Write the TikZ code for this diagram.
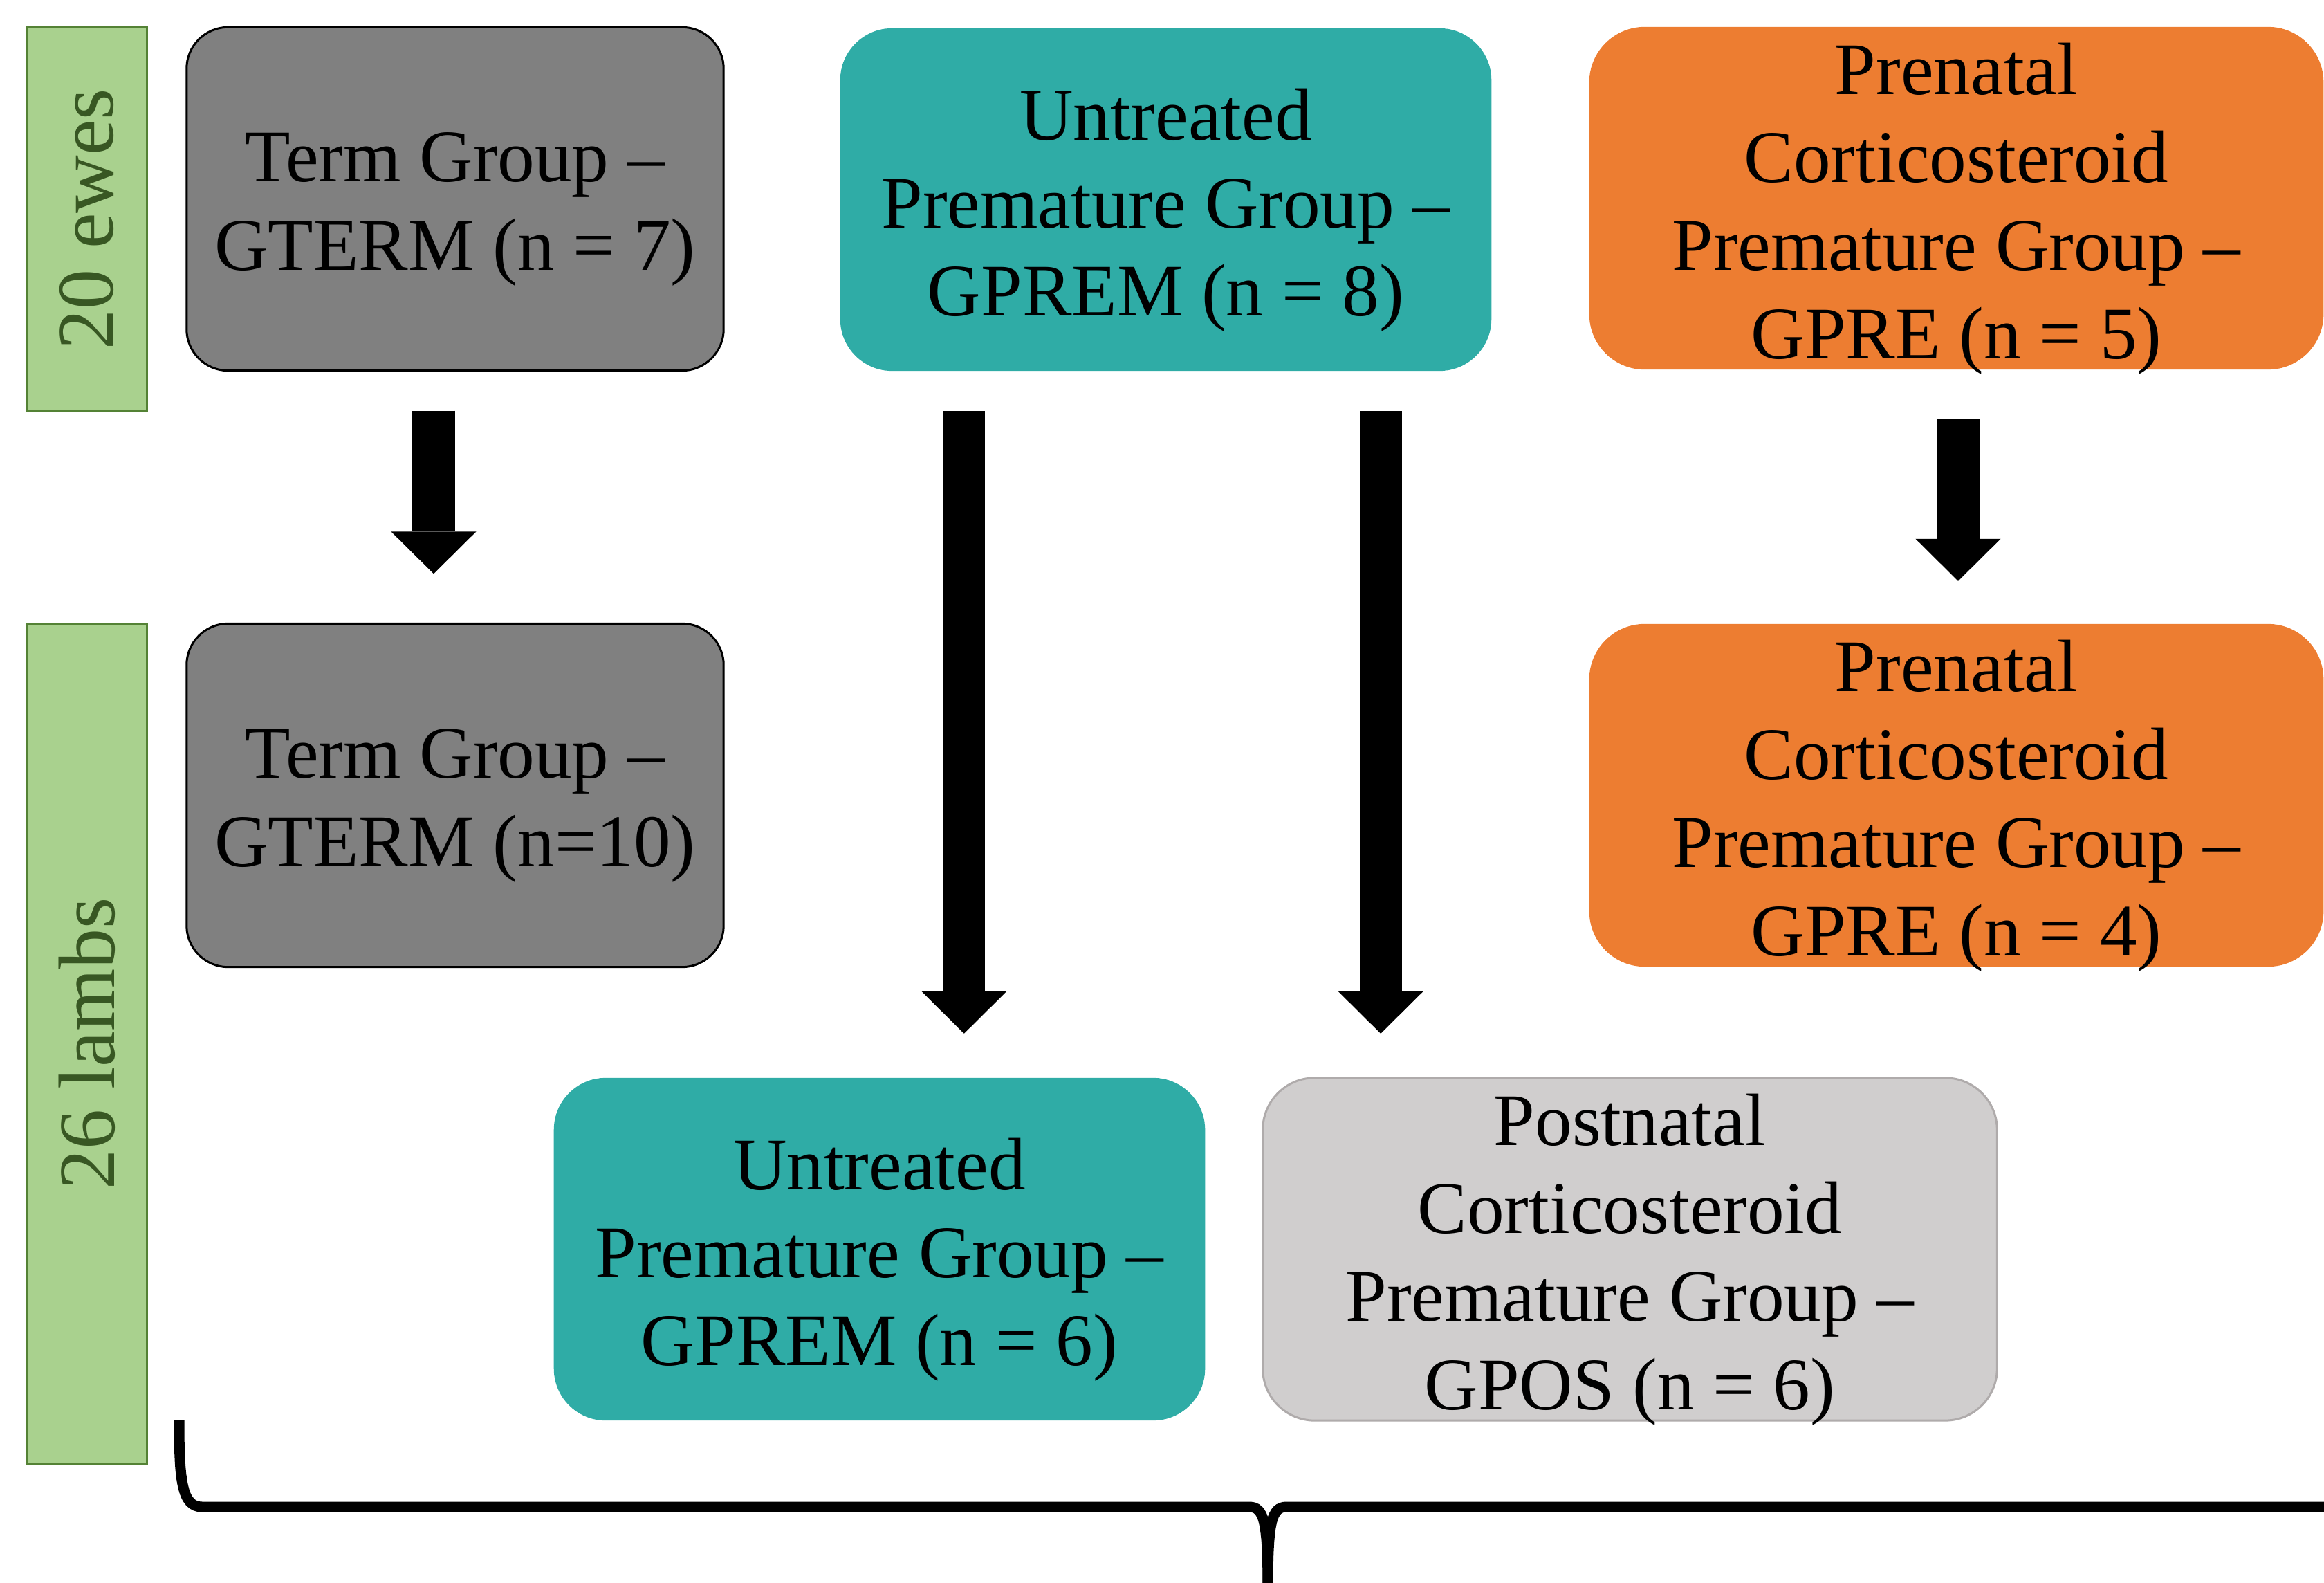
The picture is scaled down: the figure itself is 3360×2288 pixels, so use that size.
\documentclass[tikz,border=0pt]{standalone}
\usepackage{fontspec}
\setmainfont{Liberation Serif}
\usetikzlibrary{arrows.meta,calc}
\definecolor{termgray}{HTML}{808080}
\definecolor{tealbox}{HTML}{2FACA6}
\definecolor{orangebox}{HTML}{ED7D31}
\definecolor{lgraybox}{HTML}{D0CECE}
\definecolor{lgrayline}{HTML}{AFABAB}
\definecolor{gfill}{HTML}{A9D18E}
\definecolor{gborder}{HTML}{548235}
\definecolor{gtext}{HTML}{385723}
\begin{document}
\begin{tikzpicture}[x=0.01cm,y=-0.01cm,
  boxbase/.style={rectangle, inner sep=0pt, outer sep=0pt},
  termbox/.style={boxbase, rounded corners=0.6cm, fill=termgray, draw=black, line width=0.03cm,
    minimum width=7.76cm, minimum height=4.96cm},
  tealgrp/.style={boxbase, rounded corners=0.75cm, fill=tealbox, draw=none,
    minimum width=9.41cm, minimum height=4.95cm},
  orangegrp/.style={boxbase, rounded corners=0.8cm, fill=orangebox, draw=none,
    minimum width=10.61cm, minimum height=4.95cm},
  postgrp/.style={boxbase, rounded corners=0.75cm, fill=lgraybox, draw=lgrayline, line width=0.03cm,
    minimum width=10.61cm, minimum height=4.95cm},
  sidebar/.style={boxbase, fill=gfill, draw=gborder, line width=0.03cm, minimum width=1.73cm},
  sidetext/.style={inner sep=0pt, text=gtext, rotate=90, font=\fontsize{33}{40}\selectfont},
  boxtext/.style={inner sep=0pt, align=center, text=black, yshift=-0.15cm,
    font=\fontsize{30.5}{36.2}\selectfont},
  blockarrow/.style={line width=0.61cm, draw=black,
    -{Triangle[width=1.23cm, length=0.61cm, line width=0pt]}},
  bracestyle/.style={line width=0.15cm, draw=black}
]
\useasboundingbox (0,0) rectangle (3360,2288);
\clip (0,0) rectangle (3360,2288);

% side bars
\node[sidebar, minimum height=5.55cm] (g1) at (125.5,316.5) {};
\node[sidetext] (g1t) at (g1.center) {20 ewes};
\node[sidebar, minimum height=12.13cm] (g2) at (125.5,1508.5) {};
\node[sidetext] (g2t) at (g2.center) {26 lambs};

% top row
\node[termbox] (t1) at (658,287.5) {};
\node[boxtext] (t1t) at (t1.center) {Term Group –\\GTERM (n = 7)};
\node[tealgrp] (u1) at (1685.5,288.5) {};
\node[boxtext] (u1t) at (u1.center) {Untreated\\Premature Group –\\GPREM (n = 8)};
\node[orangegrp] (p1) at (2828.5,286.5) {};
\node[boxtext] (p1t) at (p1.center) {Prenatal\\Corticosteroid\\Premature Group –\\GPRE (n = 5)};

% middle row
\node[termbox] (t2) at (658,1149.5) {};
\node[boxtext] (t2t) at (t2.center) {Term Group –\\GTERM (n=10)};
\node[orangegrp] (p2) at (2828.5,1149.5) {};
\node[boxtext] (p2t) at (p2.center) {Prenatal\\Corticosteroid\\Premature Group –\\GPRE (n = 4)};

% bottom row
\node[tealgrp] (u2) at (1271.5,1805.5) {};
\node[boxtext] (u2t) at (u2.center) {Untreated\\Premature Group –\\GPREM (n = 6)};
\node[postgrp] (q2) at (2356.5,1805.5) {};
\node[boxtext] (q2t) at (q2.center) {Postnatal\\Corticosteroid\\Premature Group –\\GPOS (n = 6)};

% block arrows
\coordinate (a1s) at ([xshift=-0.31cm,yshift=-0.58cm]t1.south);
\coordinate (a1e) at ([yshift=0.72cm]a1s |- t2.north);
\draw[blockarrow] (a1s) -- (a1e);

\coordinate (a2s) at ([xshift=-2.915cm,yshift=-0.58cm]u1.south);
\coordinate (a2e) at ([yshift=0.64cm]a2s |- u2.north);
\draw[blockarrow] (a2s) -- (a2e);

\coordinate (a3s) at ([xshift=3.105cm,yshift=-0.58cm]u1.south);
\coordinate (a3e) at ([yshift=0.64cm]a3s |- q2.north);
\draw[blockarrow] (a3s) -- (a3e);

\coordinate (a4s) at ([xshift=0.025cm,yshift=-0.72cm]p1.south);
\coordinate (a4e) at ([yshift=0.62cm]a4s |- p2.north);
\draw[blockarrow] (a4s) -- (a4e);

% brace
\draw[bracestyle] (259,2053) .. controls (259,2140) and (263,2178) .. (292,2178)
  -- (1806,2178) .. controls (1828,2178) and (1833,2200) .. (1833,2300);
\draw[bracestyle] (1833,2300) .. controls (1833,2200) and (1838,2178) .. (1860,2178)
  -- (3420,2178);
\end{tikzpicture}
\end{document}
